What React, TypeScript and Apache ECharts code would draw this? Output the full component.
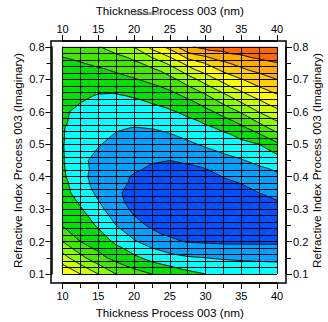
import React, { useEffect, useRef } from "react";
import * as echarts from "echarts";

// Data grid: thickness (nm) columns x imaginary refractive index rows
const thickness = [10, 12.5, 15, 17.5, 20, 22.5, 25, 27.5, 30, 32.5, 35, 37.5, 40];
const kIndex = [0.1, 0.15, 0.2, 0.25, 0.3, 0.35, 0.4, 0.45, 0.5, 0.55, 0.6, 0.65, 0.7, 0.75, 0.8];
// merit value (in contour-level units), one row per kIndex value, one entry per thickness value
const merit = [
  [7.86, 7.0, 6.0, 5.0, 4.38, 4.0, 3.64, 3.26, 3.0, 2.87, 2.78, 2.75, 2.73],
  [6.41, 5.29, 4.33, 3.67, 3.21, 2.67, 2.32, 2.1, 2.0, 1.9, 1.83, 1.78, 1.75],
  [5.0, 4.0, 3.5, 2.83, 2.11, 1.56, 1.13, 0.95, 0.9, 0.85, 0.85, 0.85, 0.85],
  [3.95, 3.55, 2.88, 2.0, 1.31, 0.85, 0.7, 0.55, 0.5, 0.45, 0.45, 0.45, 0.5],
  [3.6, 3.09, 2.25, 1.5, 0.8, 0.6, 0.45, 0.35, 0.3, 0.25, 0.3, 0.4, 0.7],
  [3.35, 2.6, 1.8, 1.15, 0.7, 0.5, 0.4, 0.3, 0.25, 0.3, 0.6, 1.0, 1.25],
  [3.18, 2.25, 1.66, 1.22, 0.93, 0.65, 0.55, 0.45, 0.55, 1.04, 1.31, 1.57, 1.78],
  [3.08, 2.2, 1.75, 1.45, 1.28, 1.09, 1.0, 1.17, 1.43, 1.7, 1.94, 2.21, 2.52],
  [3.05, 2.32, 2.06, 1.75, 1.62, 1.56, 1.59, 1.84, 2.13, 2.4, 2.69, 3.0, 3.81],
  [3.07, 2.52, 2.35, 2.08, 1.97, 2.02, 2.2, 2.5, 2.8, 3.18, 3.75, 4.53, 5.43],
  [3.13, 2.8, 2.65, 2.5, 2.5, 2.63, 2.87, 3.22, 3.7, 4.34, 5.1, 6.03, 6.75],
  [3.25, 3.16, 2.94, 2.92, 3.08, 3.35, 3.67, 4.19, 4.88, 5.76, 6.66, 7.33, 7.89],
  [3.45, 3.56, 3.51, 3.66, 3.93, 4.24, 4.67, 5.5, 6.46, 7.32, 7.95, 8.54, 9.0],
  [3.75, 3.95, 4.17, 4.47, 4.79, 5.31, 6.2, 7.31, 8.04, 8.81, 9.36, 9.72, 9.96],
  [4.4, 4.68, 4.94, 5.39, 6.03, 7.3, 8.31, 9.85, 10.3, 10.45, 10.6, 10.78, 10.96],
];
const levels = [1, 2, 3, 4, 5, 6, 7, 8, 9, 10];
const bandColors = [
  "#0050ff", "#00a0ff", "#00ffff", "#00e000", "#40e800", "#88ff00",
  "#ccff00", "#ffff00", "#ffcc00", "#ffaa00", "#ff6600",
];
const xTitle = "Thickness Process 003 (nm)";
const yTitle = "Refractive Index Process 003 (Imaginary)";
const FONT = "Liberation Sans, Arial, sans-serif";

type P = { x: number; y: number; v: number };
const EPS = 1e-7;

function clip(poly: P[], level: number, keepAbove: boolean): P[] {
  const out: P[] = [];
  const n = poly.length;
  for (let i = 0; i < n; i++) {
    const a = poly[i];
    const b = poly[(i + 1) % n];
    const ina = keepAbove ? a.v >= level : a.v <= level;
    const inb = keepAbove ? b.v >= level : b.v <= level;
    if (ina) out.push(a);
    if (ina !== inb) {
      const f = (level - a.v) / (b.v - a.v);
      out.push({ x: a.x + f * (b.x - a.x), y: a.y + f * (b.y - a.y), v: level });
    }
  }
  return out;
}

function cellTriangles(api: any): P[][] {
  const i = api.value(2);
  const j = api.value(3);
  const idx = [[i, j], [i + 1, j], [i + 1, j + 1], [i, j + 1]];
  const c = idx.map(([a, b]) => {
    const p = api.coord([thickness[a], kIndex[b]]);
    return { x: p[0], y: p[1], v: merit[b][a] };
  });
  if (Math.abs(c[0].v - c[2].v) <= Math.abs(c[1].v - c[3].v)) {
    return [[c[0], c[1], c[2]], [c[0], c[2], c[3]]];
  }
  return [[c[0], c[1], c[3]], [c[1], c[2], c[3]]];
}

const renderFill = (_params: any, api: any) => {
  const children: any[] = [];
  for (const tri of cellTriangles(api)) {
    for (let b = 0; b <= levels.length; b++) {
      let poly = tri;
      if (b > 0) poly = clip(poly, levels[b - 1], true);
      if (poly.length >= 3 && b < levels.length) poly = clip(poly, levels[b], false);
      if (poly.length >= 3) {
        children.push({
          type: "polygon",
          shape: { points: poly.map((p) => [p.x, p.y]) },
          style: { fill: bandColors[b], stroke: bandColors[b], lineWidth: 0.6 },
        });
      }
    }
  }
  return { type: "group", children };
};

const renderLines = (_params: any, api: any) => {
  const children: any[] = [];
  for (const tri of cellTriangles(api)) {
    for (const L0 of levels) {
      const L = L0 + EPS;
      const pts: number[][] = [];
      for (let e = 0; e < 3; e++) {
        const a = tri[e];
        const b = tri[(e + 1) % 3];
        if ((a.v >= L) !== (b.v >= L)) {
          const f = (L - a.v) / (b.v - a.v);
          pts.push([a.x + f * (b.x - a.x), a.y + f * (b.y - a.y)]);
        }
      }
      if (pts.length === 2) {
        children.push({
          type: "line",
          shape: { x1: pts[0][0], y1: pts[0][1], x2: pts[1][0], y2: pts[1][1] },
          style: { stroke: "#000", lineWidth: 0.9 },
        });
      }
    }
  }
  return { type: "group", children };
};

const cells: number[][] = [];
for (let j = 0; j < kIndex.length - 1; j++) {
  for (let i = 0; i < thickness.length - 1; i++) {
    cells.push([thickness[i], kIndex[j], i, j]);
  }
}

const labelStyle = { fontSize: 11, color: "#000", fontFamily: FONT };
const nameStyle = { fontSize: 11.7, color: "#000", fontFamily: FONT };

function xAxisVisible(position: "top" | "bottom", offset: number, nameGap: number) {
  return {
    type: "value",
    min: 10,
    max: 40,
    interval: 5,
    position,
    offset,
    name: xTitle,
    nameLocation: "middle",
    nameGap,
    nameMoveOverlap: false,
    nameTextStyle: nameStyle,
    axisLine: { show: true, lineStyle: { color: "#000", width: 1.5 } },
    axisTick: { show: true, length: 6, lineStyle: { color: "#000", width: 1 } },
    minorTick: { show: true, splitNumber: 2, length: 5, lineStyle: { color: "#000", width: 1 } },
    splitLine: { show: false },
    axisLabel: { ...labelStyle, margin: 7 },
  };
}

function yAxisVisible(position: "left" | "right", offset: number, nameGap: number) {
  return {
    type: "value",
    min: 0.1,
    max: 0.8,
    interval: 0.1,
    position,
    offset,
    name: yTitle,
    nameLocation: "middle",
    nameGap,
    nameMoveOverlap: false,
    nameRotate: 90,
    nameTextStyle: nameStyle,
    axisLine: { show: true, lineStyle: { color: "#000", width: 1.5 } },
    axisTick: { show: true, length: 6, lineStyle: { color: "#000", width: 1 } },
    minorTick: { show: true, splitNumber: 2, length: 5, lineStyle: { color: "#000", width: 1 } },
    splitLine: { show: false },
    axisLabel: { ...labelStyle, margin: 7, formatter: (v: number) => v.toFixed(1) },
  };
}

export default function App() {
  const ref = useRef<HTMLDivElement>(null);
  useEffect(() => {
    if (!ref.current) return;
    const chart = echarts.init(ref.current, null, { renderer: "svg" });
    chart.setOption({
      animation: false,
      backgroundColor: "#fff",
      grid: { left: 62.5, right: 51, top: 47, bottom: 48, outerBoundsMode: "none", containLabel: false },
      xAxis: [
        xAxisVisible("bottom", 9, 23),
        xAxisVisible("top", 6, 25),
        {
          type: "value",
          min: 10,
          max: 40,
          interval: 2.5,
          position: "bottom",
          z: 2,
          axisLine: { show: false },
          axisTick: { show: false },
          axisLabel: { show: false },
          splitLine: { show: true, lineStyle: { color: "#000", width: 1 } },
        },
      ],
      yAxis: [
        yAxisVisible("left", 11, 28),
        yAxisVisible("right", 9, 24),
        {
          type: "value",
          min: 0.1,
          max: 0.8,
          interval: 0.02,
          position: "left",
          z: 2,
          axisLine: { show: false },
          axisTick: { show: false },
          axisLabel: { show: false },
          splitLine: { show: true, lineStyle: { color: "#000", width: 1 } },
        },
      ],
      series: [
        {
          type: "custom",
          xAxisIndex: 0,
          yAxisIndex: 0,
          z: 1,
          silent: true,
          renderItem: renderFill,
          data: cells,
        },
        {
          type: "custom",
          xAxisIndex: 0,
          yAxisIndex: 0,
          z: 3,
          silent: true,
          renderItem: renderLines,
          data: cells,
        },
      ],
      graphic: [
        {
          type: "rect",
          z: 10,
          shape: { x: 51, y: 41, width: 235, height: 242 },
          style: { fill: "none", stroke: "#000", lineWidth: 1.5 },
        },
        {
          type: "text",
          z: 10,
          x: 147,
          y: 13,
          style: { text: "Simulation", fontSize: 6, fill: "#555", fontFamily: FONT, align: "center", verticalAlign: "middle" },
        },
      ],
    });
    return () => chart.dispose();
  }, []);
  return (
    <div
      ref={ref}
      style={{ position: "fixed", left: 0, top: 0, width: 328, height: 322, background: "#fff" }}
    />
  );
}
